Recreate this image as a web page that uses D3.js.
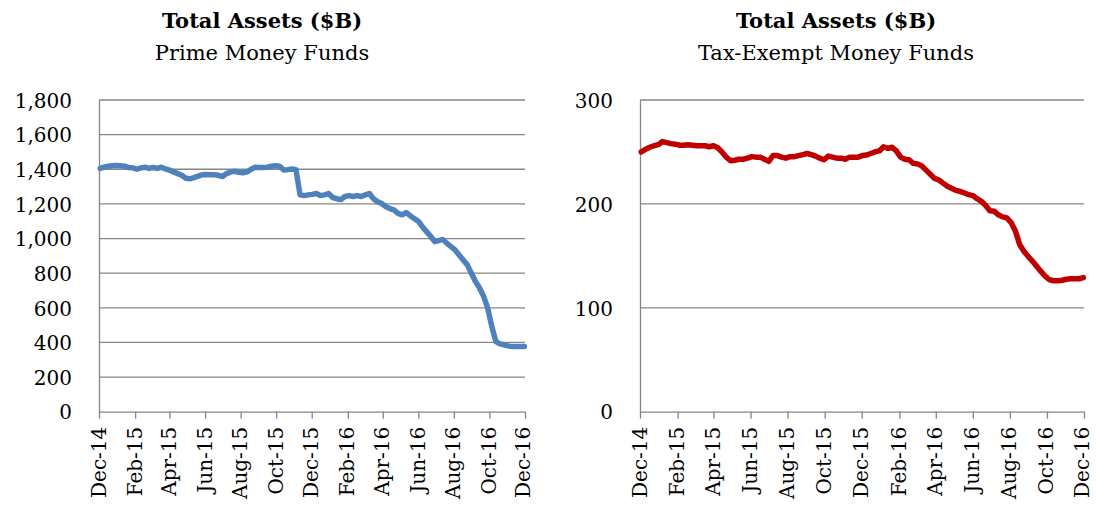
<!DOCTYPE html>
<html>
<head>
<meta charset="utf-8">
<script src="https://cdn.jsdelivr.net/npm/d3@7"></script>
<style>
  body { margin: 0; background: #fff; }
  text { font-family: "DejaVu Serif", "Liberation Serif", serif; fill: #000; }
</style>
</head>
<body>
<div id="chart"></div>
<script>
// weekly observations, first one on Wed 3 Dec 2014
var firstWeek = "2014-12-03";

// Prime money funds, total assets ($B)
var primeValues = [1405, 1412, 1418, 1420, 1422, 1420, 1418, 1410, 1408, 1400,
  1408, 1412, 1405, 1410, 1405, 1412, 1402, 1395, 1385, 1375,
  1365, 1348, 1345, 1352, 1360, 1368, 1370, 1368, 1368, 1365,
  1358, 1375, 1385, 1388, 1382, 1380, 1385, 1400, 1412, 1410,
  1410, 1412, 1418, 1420, 1418, 1395, 1398, 1402, 1398, 1252,
  1248, 1252, 1255, 1260, 1248, 1252, 1260, 1237, 1230, 1225,
  1243, 1248, 1243, 1248, 1243, 1252, 1260, 1230, 1213, 1202,
  1185, 1173, 1165, 1145, 1137, 1150, 1132, 1115, 1100, 1068,
  1040, 1013, 982, 988, 995, 972, 953, 934, 905, 876,
  848, 800, 752, 714, 666, 598, 492, 405, 392, 386,
  380, 376, 376, 376, 376];

// Tax-exempt money funds, total assets ($B)
var taxExemptValues = [250, 252.5, 254.5, 256, 257, 260, 259, 258, 257.5, 256.5,
  256.5, 257, 256.5, 256, 256, 256, 255, 256, 254, 250,
  245, 241.5, 242, 243, 243, 244, 245.5, 245, 245, 243,
  241, 246.5, 246.5, 245, 244, 245.5, 245.5, 246.5, 247.5, 248.5,
  247.5, 246, 244, 242.5, 246, 245, 244, 244, 243, 245,
  245, 245, 246.5, 247, 248.5, 250, 251, 255, 253.5, 254.5,
  251, 245, 243, 242.5, 239, 238.5, 236.5, 232.5, 228.5, 224.5,
  223, 220, 217, 215, 213, 212, 210.5, 209, 208, 205,
  202.5, 198.5, 193.5, 193, 189.5, 187.5, 186.5, 182, 174, 161,
  154.5, 149.5, 145, 140, 135, 130.5, 127, 126, 126, 126.5,
  127.5, 128, 128, 128, 129];

var primeTicks = [0, 200, 400, 600, 800, 1000, 1200, 1400, 1600, 1800];
var taxExemptTicks = [0, 100, 200, 300];
// x axis runs Dec-14 .. Dec-16, a label every 2 months
var xStart = "2014-12-01", xEnd = "2016-12-01";

var svg = d3.select("#chart")
  .append("svg")
    .attr("width", 1096)
    .attr("height", 510);

var parse = d3.timeParse("%Y-%m-%d");
var fmt = d3.timeFormat("%b-%y");

function drawChart(left, width, titleX, values, yTicks, color, title, subtitle) {
  var top = 100, height = 311.7;
  var g = svg.append("g").attr("transform", "translate(" + left + "," + top + ")");

  var start = parse(firstWeek);
  var data = values.map(function(v, i) { return {date: d3.timeWeek.offset(start, i), value: v}; });

  var x = d3.scaleTime()
    .domain([parse(xStart), parse(xEnd)])
    .range([0, width]);
  var y = d3.scaleLinear()
    .domain([0, d3.max(yTicks)])
    .range([height, 0]);

  var xTicks = d3.timeMonth.range(parse(xStart), d3.timeDay.offset(parse(xEnd), 1), 2);

  // gridlines
  g.append("g")
    .selectAll("line")
    .data(yTicks.slice(1))
    .enter()
    .append("line")
      .attr("x1", 0)
      .attr("x2", width)
      .attr("y1", function(d) { return y(d); })
      .attr("y2", function(d) { return y(d); })
      .style("stroke", "#868686")
      .style("stroke-width", 1.3);

  // Y axis
  var yAxis = g.append("g")
    .call(d3.axisLeft(y).tickValues(yTicks).tickSize(0).tickPadding(27).tickFormat(d3.format(",")));
  yAxis.select(".domain").style("stroke", "#868686").style("stroke-width", 1.3);
  yAxis.selectAll("text").style("font-size", "20px").attr("dy", "0.36em");

  // X axis
  var xAxis = g.append("g")
    .attr("transform", "translate(0," + height + ")")
    .call(d3.axisBottom(x).tickValues(xTicks).tickSize(7).tickSizeOuter(0).tickFormat(fmt));
  xAxis.select(".domain").style("stroke", "#868686").style("stroke-width", 1.3);
  xAxis.selectAll(".tick line").style("stroke", "#868686").style("stroke-width", 1.3);
  xAxis.selectAll("text")
    .style("font-size", "20px")
    .attr("text-anchor", "end")
    .attr("transform", "rotate(-90)")
    .attr("x", -15)
    .attr("y", 0)
    .attr("dy", function(d, i) { return i == xTicks.length - 1 ? "0.2em" : "0.3em"; });

  // the series
  g.append("path")
    .datum(data)
    .attr("fill", "none")
    .attr("stroke", color)
    .attr("stroke-width", 5.5)
    .attr("stroke-linejoin", "round")
    .attr("stroke-linecap", "round")
    .attr("d", d3.line()
      .x(function(d) { return x(d.date); })
      .y(function(d) { return y(d.value); }));

  // titles
  svg.append("text")
    .attr("x", titleX)
    .attr("y", 28)
    .attr("text-anchor", "middle")
    .style("font-size", "21px")
    .style("font-weight", "bold")
    .text(title);
  svg.append("text")
    .attr("x", titleX)
    .attr("y", 60)
    .attr("text-anchor", "middle")
    .style("font-size", "21px")
    .text(subtitle);
}

drawChart(99, 426, 262, primeValues, primeTicks, "#4F81BD", "Total Assets ($B)", "Prime Money Funds");
drawChart(640, 444, 836, taxExemptValues, taxExemptTicks, "#C00000", "Total Assets ($B)", "Tax-Exempt Money Funds");
</script>
</body>
</html>
